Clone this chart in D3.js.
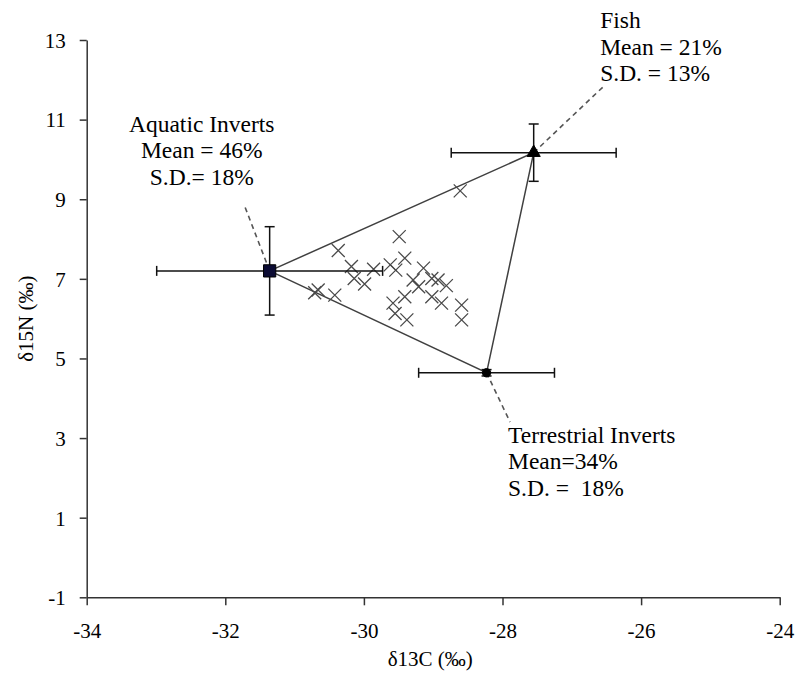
<!DOCTYPE html>
<html><head><meta charset="utf-8">
<script src="https://cdn.jsdelivr.net/npm/d3@7"></script>
<style>body{margin:0;background:#fff}svg{display:block}text{font-family:"Liberation Serif","Times New Roman",serif;fill:#000}</style>
</head><body><svg id="c" width="801" height="676"></svg>
<script>
// ---- data ----
const xTicks = [-34, -32, -30, -28, -26, -24];
const yTicks = [-1, 1, 3, 5, 7, 9, 11, 13];
const consumerX = [-28.61,-30.37,-29.49,-30.18,-30.14,-29.99,-29.86,-30.71,-30.66,-30.42,-29.58,-29.62,-29.41,-29.54,-29.14,-29.29,-29.21,-29.02,-28.93,-28.81,-29.02,-28.88,-29.41,-29.55,-29.38,-28.59,-28.59];
const consumerY = [9.21,7.71,8.06,7.31,7.01,6.87,7.24,6.65,6.72,6.59,6.39,7.35,7.52,7.22,7.27,6.97,6.80,7.01,6.97,6.83,6.55,6.39,6.55,6.13,5.97,6.34,5.97];
const sourceNames = ["Aquatic Inverts", "Fish", "Terrestrial Inverts"];
const sourceX = [-31.36, -27.55, -28.23];
const sourceY = [7.20, 10.17, 4.64];
const sourceXsd = [1.63, 1.19, 0.98];
const sourceYsd = [1.11, 0.72, 0.08];
const sourceMarker = ["square", "triangle", "circle"];
const labelLines = [
  ["Aquatic Inverts", "Mean = 46%", "S.D.= 18%"],
  ["Fish", "Mean = 21%", "S.D. = 13%"],
  ["Terrestrial Inverts", "Mean=34%", "S.D. =  18%"]
];
const labelX = [-32.34, -26.59, -27.92];
const labelY = [10.70, 13.30, 2.88];
const labelAnchor = ["middle", "start", "start"];
const leaderX = [-31.73, -26.55, -27.89];
const leaderY = [8.87, 11.82, 3.40];

// ---- layout ----
const svg = d3.select("#c");
const m = {l: 86.7, t: 40, r: 21.3, b: 78.7};
const W = 801 - m.l - m.r, H = 676 - m.t - m.b;
const x = d3.scaleLinear().domain([-34, -24]).range([m.l, m.l + W]);
const y = d3.scaleLinear().domain([-1, 13]).range([m.t + H, m.t]);
const fmt = d => String(d); // plain hyphen-minus as in the original

const axisColor = "#333";
const gx = svg.append("g").attr("transform", `translate(0,${m.t + H})`)
  .call(d3.axisBottom(x).tickValues(xTicks).tickSize(8).tickSizeOuter(0).tickPadding(14).tickFormat(fmt));
const gy = svg.append("g").attr("transform", `translate(${m.l},0)`)
  .call(d3.axisLeft(y).tickValues(yTicks).tickSize(7).tickSizeOuter(0).tickPadding(14).tickFormat(fmt));
[gx, gy].forEach(g => {
  g.select(".domain").attr("stroke", axisColor).attr("stroke-width", 1.5);
  g.selectAll(".tick line").attr("stroke", axisColor).attr("stroke-width", 1.5);
  g.selectAll(".tick text").style("font-family", '"Liberation Serif", serif').style("font-size", "21px").attr("fill", "#000");
});
gx.selectAll(".tick text").attr("dy", "0.9em");
gy.selectAll(".tick text").attr("dy", "0.35em");

svg.append("text").attr("x", m.l + W / 2 - 3).attr("y", 666).attr("text-anchor", "middle")
  .style("font-size", "21px").text("δ13C (‰)");
svg.append("text").attr("transform", `translate(33,${m.t + H / 2}) rotate(-90)`).attr("text-anchor", "middle")
  .style("font-size", "21px").text("δ15N (‰)");

// mixing triangle
const tri = d3.line().x(i => x(sourceX[i])).y(i => y(sourceY[i]));
svg.append("path").attr("d", tri([0, 1, 2, 0])).attr("fill", "none").attr("stroke", "#404040").attr("stroke-width", 1.5);

// consumers (x markers)
const s = 6.5;
svg.append("g").selectAll("path").data(consumerX.map((d, i) => [d, consumerY[i]])).join("path")
  .attr("d", d => { const cx = x(d[0]), cy = y(d[1]); return `M${cx - s},${cy - s}L${cx + s},${cy + s}M${cx - s},${cy + s}L${cx + s},${cy - s}`; })
  .attr("stroke", "#4a4a4a").attr("stroke-width", 1.3).attr("fill", "none");

// leader lines
sourceNames.forEach((n, i) => {
  svg.append("line").attr("x1", x(sourceX[i])).attr("y1", y(sourceY[i]))
    .attr("x2", x(leaderX[i])).attr("y2", y(leaderY[i]))
    .attr("stroke", "#555").attr("stroke-width", 1.6).attr("stroke-dasharray", "5,4");
});

// error bars
const cap = 5;
sourceNames.forEach((n, i) => {
  const g = svg.append("g").attr("stroke", "#111").attr("stroke-width", 1.5);
  const cx = x(sourceX[i]), cy = y(sourceY[i]);
  const x0 = x(sourceX[i] - sourceXsd[i]), x1 = x(sourceX[i] + sourceXsd[i]);
  const y0 = y(sourceY[i] - sourceYsd[i]), y1 = y(sourceY[i] + sourceYsd[i]);
  g.append("line").attr("x1", x0).attr("x2", x1).attr("y1", cy).attr("y2", cy);
  g.append("line").attr("x1", x0).attr("x2", x0).attr("y1", cy - cap).attr("y2", cy + cap);
  g.append("line").attr("x1", x1).attr("x2", x1).attr("y1", cy - cap).attr("y2", cy + cap);
  g.append("line").attr("x1", cx).attr("x2", cx).attr("y1", y0).attr("y2", y1);
  g.append("line").attr("x1", cx - cap).attr("x2", cx + cap).attr("y1", y0).attr("y2", y0);
  g.append("line").attr("x1", cx - cap).attr("x2", cx + cap).attr("y1", y1).attr("y2", y1);
});

// source markers
const symType = {square: d3.symbolSquare, triangle: d3.symbolTriangle, circle: d3.symbolCircle};
const symSize = {square: 150, triangle: 75, circle: 55};
const symFill = {square: "#0b0b33", triangle: "#000", circle: "#000"};
sourceNames.forEach((n, i) => {
  const k = sourceMarker[i];
  svg.append("path").attr("d", d3.symbol().type(symType[k]).size(symSize[k])())
    .attr("transform", `translate(${x(sourceX[i])},${y(sourceY[i])})`)
    .attr("fill", symFill[k]).attr("stroke", "#000").attr("stroke-width", 1);
});

// annotations
sourceNames.forEach((n, i) => {
  const t = svg.append("text").attr("text-anchor", labelAnchor[i]).style("font-size", "23.5px")
    .attr("x", x(labelX[i])).attr("y", y(labelY[i])).attr("xml:space", "preserve");
  labelLines[i].forEach((ln, j) => {
    t.append("tspan").attr("x", x(labelX[i])).attr("y", y(labelY[i]) + j * 26.5).text(ln);
  });
});
</script></body></html>
